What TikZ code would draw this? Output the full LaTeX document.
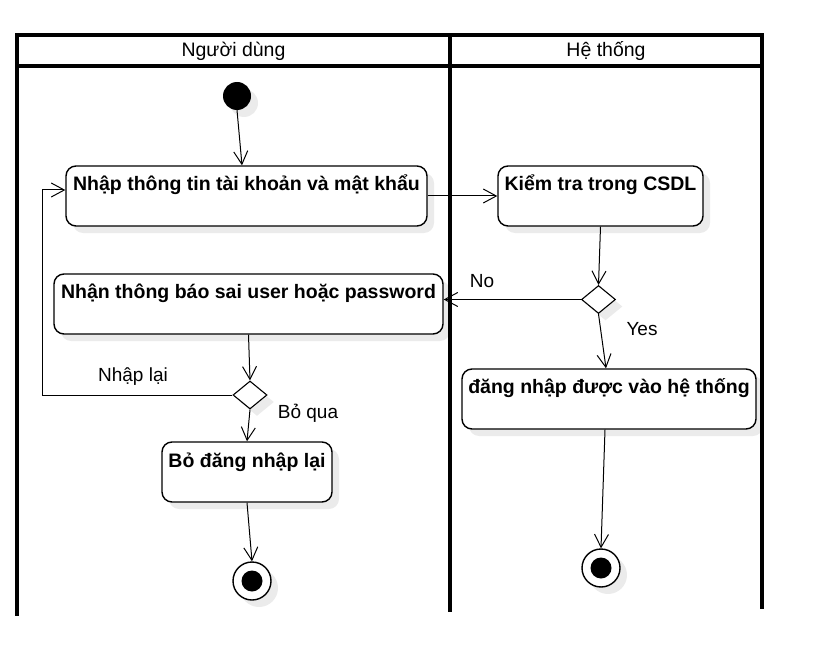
\documentclass[tikz,border=0pt]{standalone}
\usepackage{fontspec}
\setmainfont{Liberation Sans}
\usetikzlibrary{arrows.meta,shapes.geometric,shadows,calc}
\begin{document}
\begin{tikzpicture}[x=1pt,y=-1pt,
  lane/.style={line width=3.2pt},
  shad/.style={drop shadow={shadow xshift=7pt,shadow yshift=-7pt,fill=black,opacity=0.08}},
  actbox/.style={draw,line width=1.4pt,rounded corners=10pt,fill=white,shad,
    inner xsep=2pt,inner ysep=0pt,text height=25pt,text depth=35pt,
    font=\fontsize{19.5}{22}\selectfont\bfseries},
  dec/.style={draw,diamond,line width=1.1pt,fill=white,shad,inner sep=0pt,
    minimum width=34pt,minimum height=28pt},
  startnode/.style={circle,fill=black,minimum size=28pt,inner sep=0pt,shad},
  endnode/.style={circle,draw,line width=1.4pt,fill=white,minimum size=38pt,inner sep=0pt,shad,
    path picture={\fill[black] (path picture bounding box.center) circle (10.5pt);}},
  flow/.style={line width=1pt,-{Straight Barb[length=13pt,width=14pt,line width=1pt]}},
  lbl/.style={font=\fontsize{19}{22}\selectfont,inner sep=0pt},
  hdr/.style={font=\fontsize{19.5}{22}\selectfont,inner sep=0pt}]
\useasboundingbox (0,0) rectangle (819,663);
% swimlanes
\draw[lane] (17,35) rectangle (762,66);
\draw[lane] (17,35) -- (17,616);
\draw[lane] (450,35) -- (450,612);
\draw[lane] (762,35) -- (762,609);
\node[hdr] (h1) at (233.5,51) {Người dùng};
\node[hdr] (h2) at (606,51) {Hệ thống};
% nodes
\node[startnode] (start) at (237,96) {};
\node[actbox,minimum width=361pt] (b1) at (246.5,196) {Nhập thông tin tài khoản và mật khẩu};
\node[actbox,minimum width=205pt] (b2) at (600.5,196) {Kiểm tra trong CSDL};
\node[dec] (d1) at (598.5,299.5) {};
\node[actbox,minimum width=389pt,text height=24pt,text depth=36pt] (b3) at (248.5,304) {Nhận thông báo sai user hoặc password};
\node[actbox,minimum width=294pt,text height=24pt,text depth=36pt] (b4) at (609,399) {đăng nhập được vào hệ thống};
\node[dec] (d2) at (250,395) {};
\node[actbox,minimum width=170pt] (b5) at (247,472) {Bỏ đăng nhập lại};
\node[endnode] (f1) at (601,568) {};
\node[endnode] (f2) at (252,581) {};
% labels
\node[lbl] (lno) at (482,281) {No};
\node[lbl] (lyes) at (642,329) {Yes};
\node[lbl] (lre) at (133,377) {Nhập lại};
\node[lbl] (lskip) at (308,413) {Bỏ qua};
% connectors
\coordinate (lc) at (42,395);
\draw[flow] (start.south) -- ([xshift=-4.5pt]b1.north);
\draw[flow] (b1.east) -- (b2.west);
\draw[flow] (b2.south) -- (d1.north);
\draw[flow] (d1.west) -- (d1.west -| b3.east);
\draw[flow] (d1.south) -- ([xshift=-3pt]b4.north);
\draw[flow] ([xshift=-4pt]b4.south) -- (f1.north);
\draw[flow] (b3.south) -- (d2.north);
\draw[flow] (d2.west) -- (lc) |- ([yshift=6pt]b1.west);
\draw[flow] (d2.south) -- (b5.north);
\draw[flow] (b5.south) -- (f2.north);
\end{tikzpicture}
\end{document}
